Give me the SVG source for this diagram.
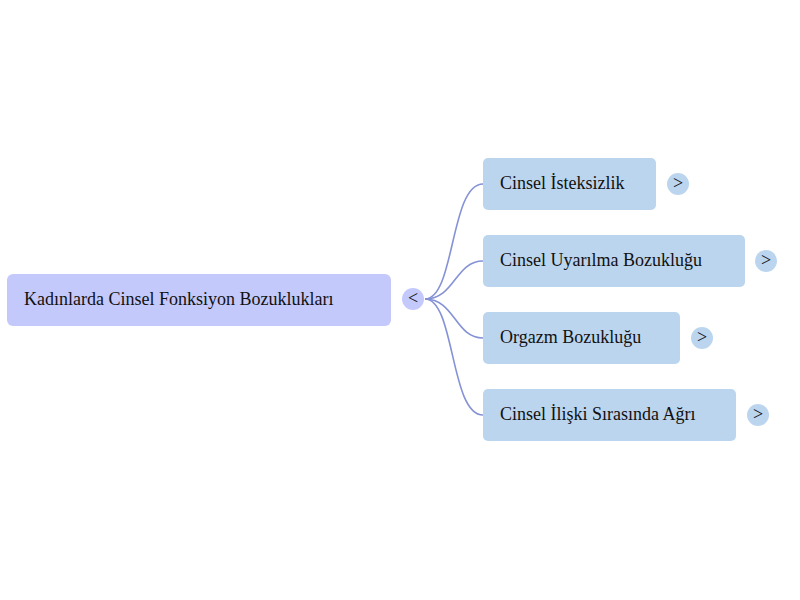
<svg xmlns="http://www.w3.org/2000/svg" width="800" height="600" viewBox="0 0 800 600">
<style>
text{font-family:"Liberation Serif",serif;font-size:18px;fill:#111;dominant-baseline:central}
.c{fill:#bcd5ef}
.link{fill:none;stroke:#8592d6;stroke-width:1.6}
</style>
<rect width="800" height="600" fill="#fff"/>
<g id="connectors">
<path class="link" d="M425,299 C455,299 450,184 483,184"/>
<path class="link" d="M425,299 C455,299 455,261 483,261"/>
<path class="link" d="M425,299 C455,299 455,338 483,338"/>
<path class="link" d="M425,299 C455,299 450,415 483,415"/>
</g>
<g id="root">
<rect x="7" y="274" width="384" height="52" rx="6" fill="#c4c9fc"/>
<text x="24" y="299">Kadınlarda Cinsel Fonksiyon Bozuklukları</text>
<circle cx="413" cy="299" r="11" fill="#c4c9fc"/>
<text x="413" y="298" text-anchor="middle">&lt;</text>
</g>
<g id="n1">
<rect class="c" x="483" y="158" width="173" height="52" rx="5"/>
<text x="500" y="183">Cinsel İsteksizlik</text>
<circle class="c" cx="678" cy="184" r="11"/>
<text x="678" y="183" text-anchor="middle">&gt;</text>
</g>
<g id="n2">
<rect class="c" x="483" y="235" width="262" height="52" rx="5"/>
<text x="500" y="260">Cinsel Uyarılma Bozukluğu</text>
<circle class="c" cx="766" cy="261" r="11"/>
<text x="766" y="260" text-anchor="middle">&gt;</text>
</g>
<g id="n3">
<rect class="c" x="483" y="312" width="197" height="52" rx="5"/>
<text x="500" y="337">Orgazm Bozukluğu</text>
<circle class="c" cx="702" cy="338" r="11"/>
<text x="702" y="337" text-anchor="middle">&gt;</text>
</g>
<g id="n4">
<rect class="c" x="483" y="389" width="253" height="52" rx="5"/>
<text x="500" y="414">Cinsel İlişki Sırasında Ağrı</text>
<circle class="c" cx="758" cy="415" r="11"/>
<text x="758" y="414" text-anchor="middle">&gt;</text>
</g>
</svg>
